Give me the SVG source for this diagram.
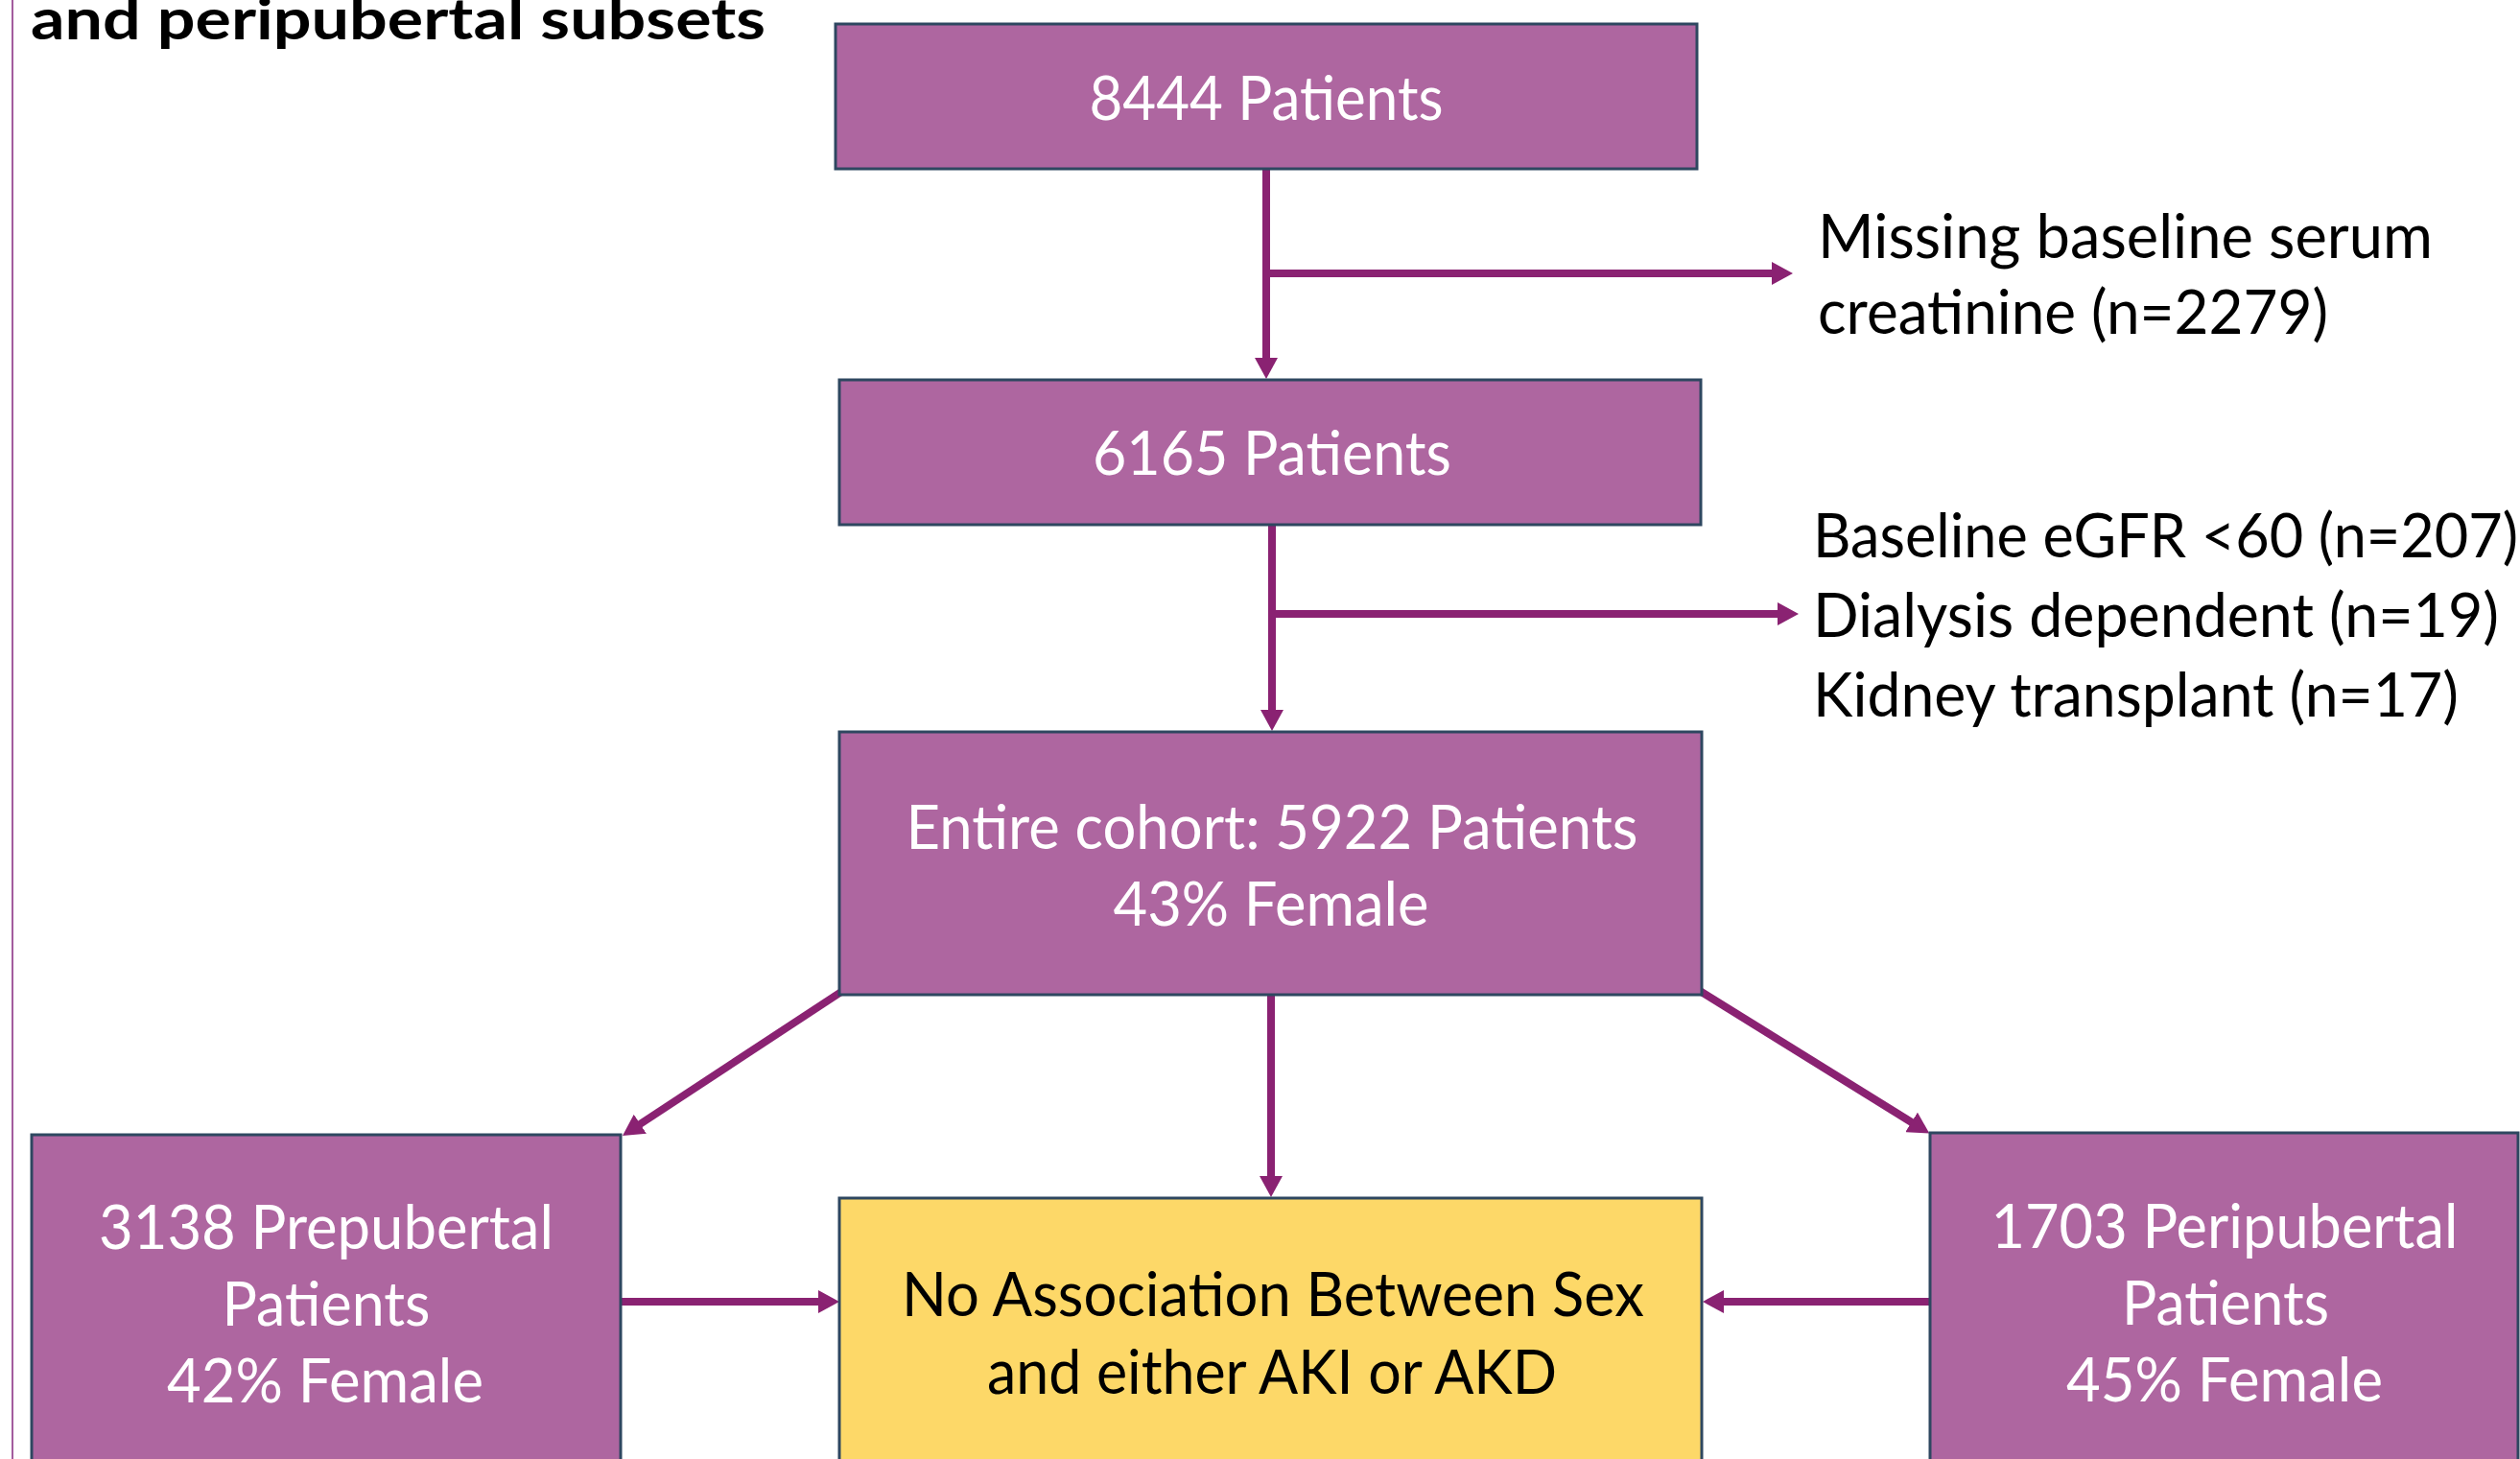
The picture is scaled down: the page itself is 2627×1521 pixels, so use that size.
<svg xmlns="http://www.w3.org/2000/svg" width="2627" height="1521" viewBox="0 0 2627 1521">
<defs>
<style>
.box{fill:#AE66A0;stroke:#2E4760;stroke-width:3}
.ybox{fill:#FDD868;stroke:#2E4760;stroke-width:3}
.wt{font-family:Lato,"Liberation Sans",sans-serif;font-size:63px;fill:#FFFFFF;text-anchor:middle}
.bt{font-family:Lato,"Liberation Sans",sans-serif;font-size:63px;fill:#000000}
.bc{text-anchor:middle}
.title{font-family:Lato,"Liberation Sans",sans-serif;font-size:60px;font-weight:bold;fill:#000000}
.conn{stroke:#8A2272;stroke-width:8;fill:none;marker-end:url(#ah)}
</style>
<marker id="ah" markerUnits="userSpaceOnUse" viewBox="0 0 22 24" markerWidth="22" markerHeight="24" refX="4" refY="12" orient="auto">
<path d="M0,0 L22,12 L0,24 Z" fill="#8A2272"/>
</marker>
</defs>
<rect x="0" y="0" width="2627" height="1521" fill="#FFFFFF"/>
<line x1="13" y1="0" x2="13" y2="1521" stroke="#A35C9E" stroke-width="2"/>
<text class="title" x="32" y="41" textLength="766" lengthAdjust="spacingAndGlyphs">and peripubertal subsets</text>

<g id="connectors">
<line class="conn" x1="1320" y1="176" x2="1320" y2="377"/>
<line class="conn" x1="1320" y1="285" x2="1851" y2="285"/>
<line class="conn" x1="1326" y1="547" x2="1326" y2="744"/>
<line class="conn" x1="1326" y1="640" x2="1857" y2="640"/>
<line class="conn" x1="1325" y1="1031" x2="1325" y2="1230"/>
<line class="conn" x1="880" y1="1032" x2="664" y2="1174"/>
<line class="conn" x1="1772" y1="1033" x2="1996" y2="1172"/>
<line class="conn" x1="647" y1="1357" x2="857" y2="1357"/>
<line class="conn" x1="2012" y1="1357" x2="1793" y2="1357"/>
</g>

<g id="n8444">
<rect class="box" x="871" y="25" width="898" height="151"/>
<text class="wt" x="1320" y="125" textLength="369" lengthAdjust="spacingAndGlyphs">8444 Patients</text>
</g>
<g id="excl1">
<text class="bt" x="1895" y="269" textLength="641" lengthAdjust="spacingAndGlyphs">Missing baseline serum</text>
<text class="bt" x="1895" y="348" textLength="532" lengthAdjust="spacingAndGlyphs">creatinine (n=2279)</text>
</g>
<g id="n6165">
<rect class="box" x="875" y="396" width="898" height="151"/>
<text class="wt" x="1326" y="495" textLength="374" lengthAdjust="spacingAndGlyphs">6165 Patients</text>
</g>
<g id="excl2">
<text class="bt" x="1890" y="581" textLength="735" lengthAdjust="spacingAndGlyphs">Baseline eGFR &lt;60 (n=207)</text>
<text class="bt" x="1890" y="664" textLength="715" lengthAdjust="spacingAndGlyphs">Dialysis dependent (n=19)</text>
<text class="bt" x="1890" y="747" textLength="673" lengthAdjust="spacingAndGlyphs">Kidney transplant (n=17)</text>
</g>
<g id="cohort">
<rect class="box" x="875" y="763" width="899" height="274"/>
<text class="wt" x="1326" y="885" textLength="763" lengthAdjust="spacingAndGlyphs">Entire cohort: 5922 Patients</text>
<text class="wt" x="1325" y="965" textLength="329" lengthAdjust="spacingAndGlyphs">43% Female</text>
</g>
<g id="result">
<rect class="ybox" x="875" y="1249" width="899" height="300"/>
<text class="bt bc" x="1327" y="1372" textLength="774" lengthAdjust="spacingAndGlyphs">No Association Between Sex</text>
<text class="bt bc" x="1326" y="1453" textLength="594" lengthAdjust="spacingAndGlyphs">and either AKI or AKD</text>
</g>
<g id="prepubertal">
<rect class="box" x="33" y="1183" width="614" height="370"/>
<text class="wt" x="340" y="1302" textLength="474" lengthAdjust="spacingAndGlyphs">3138 Prepubertal</text>
<text class="wt" x="340" y="1382" textLength="217" lengthAdjust="spacingAndGlyphs">Patients</text>
<text class="wt" x="339" y="1462" textLength="330" lengthAdjust="spacingAndGlyphs">42% Female</text>
</g>
<g id="peripubertal">
<rect class="box" x="2012" y="1181" width="613" height="370"/>
<text class="wt" x="2319" y="1301" textLength="487" lengthAdjust="spacingAndGlyphs">1703 Peripubertal</text>
<text class="wt" x="2320" y="1381" textLength="216" lengthAdjust="spacingAndGlyphs">Patients</text>
<text class="wt" x="2319" y="1461" textLength="330" lengthAdjust="spacingAndGlyphs">45% Female</text>
</g>
</svg>
